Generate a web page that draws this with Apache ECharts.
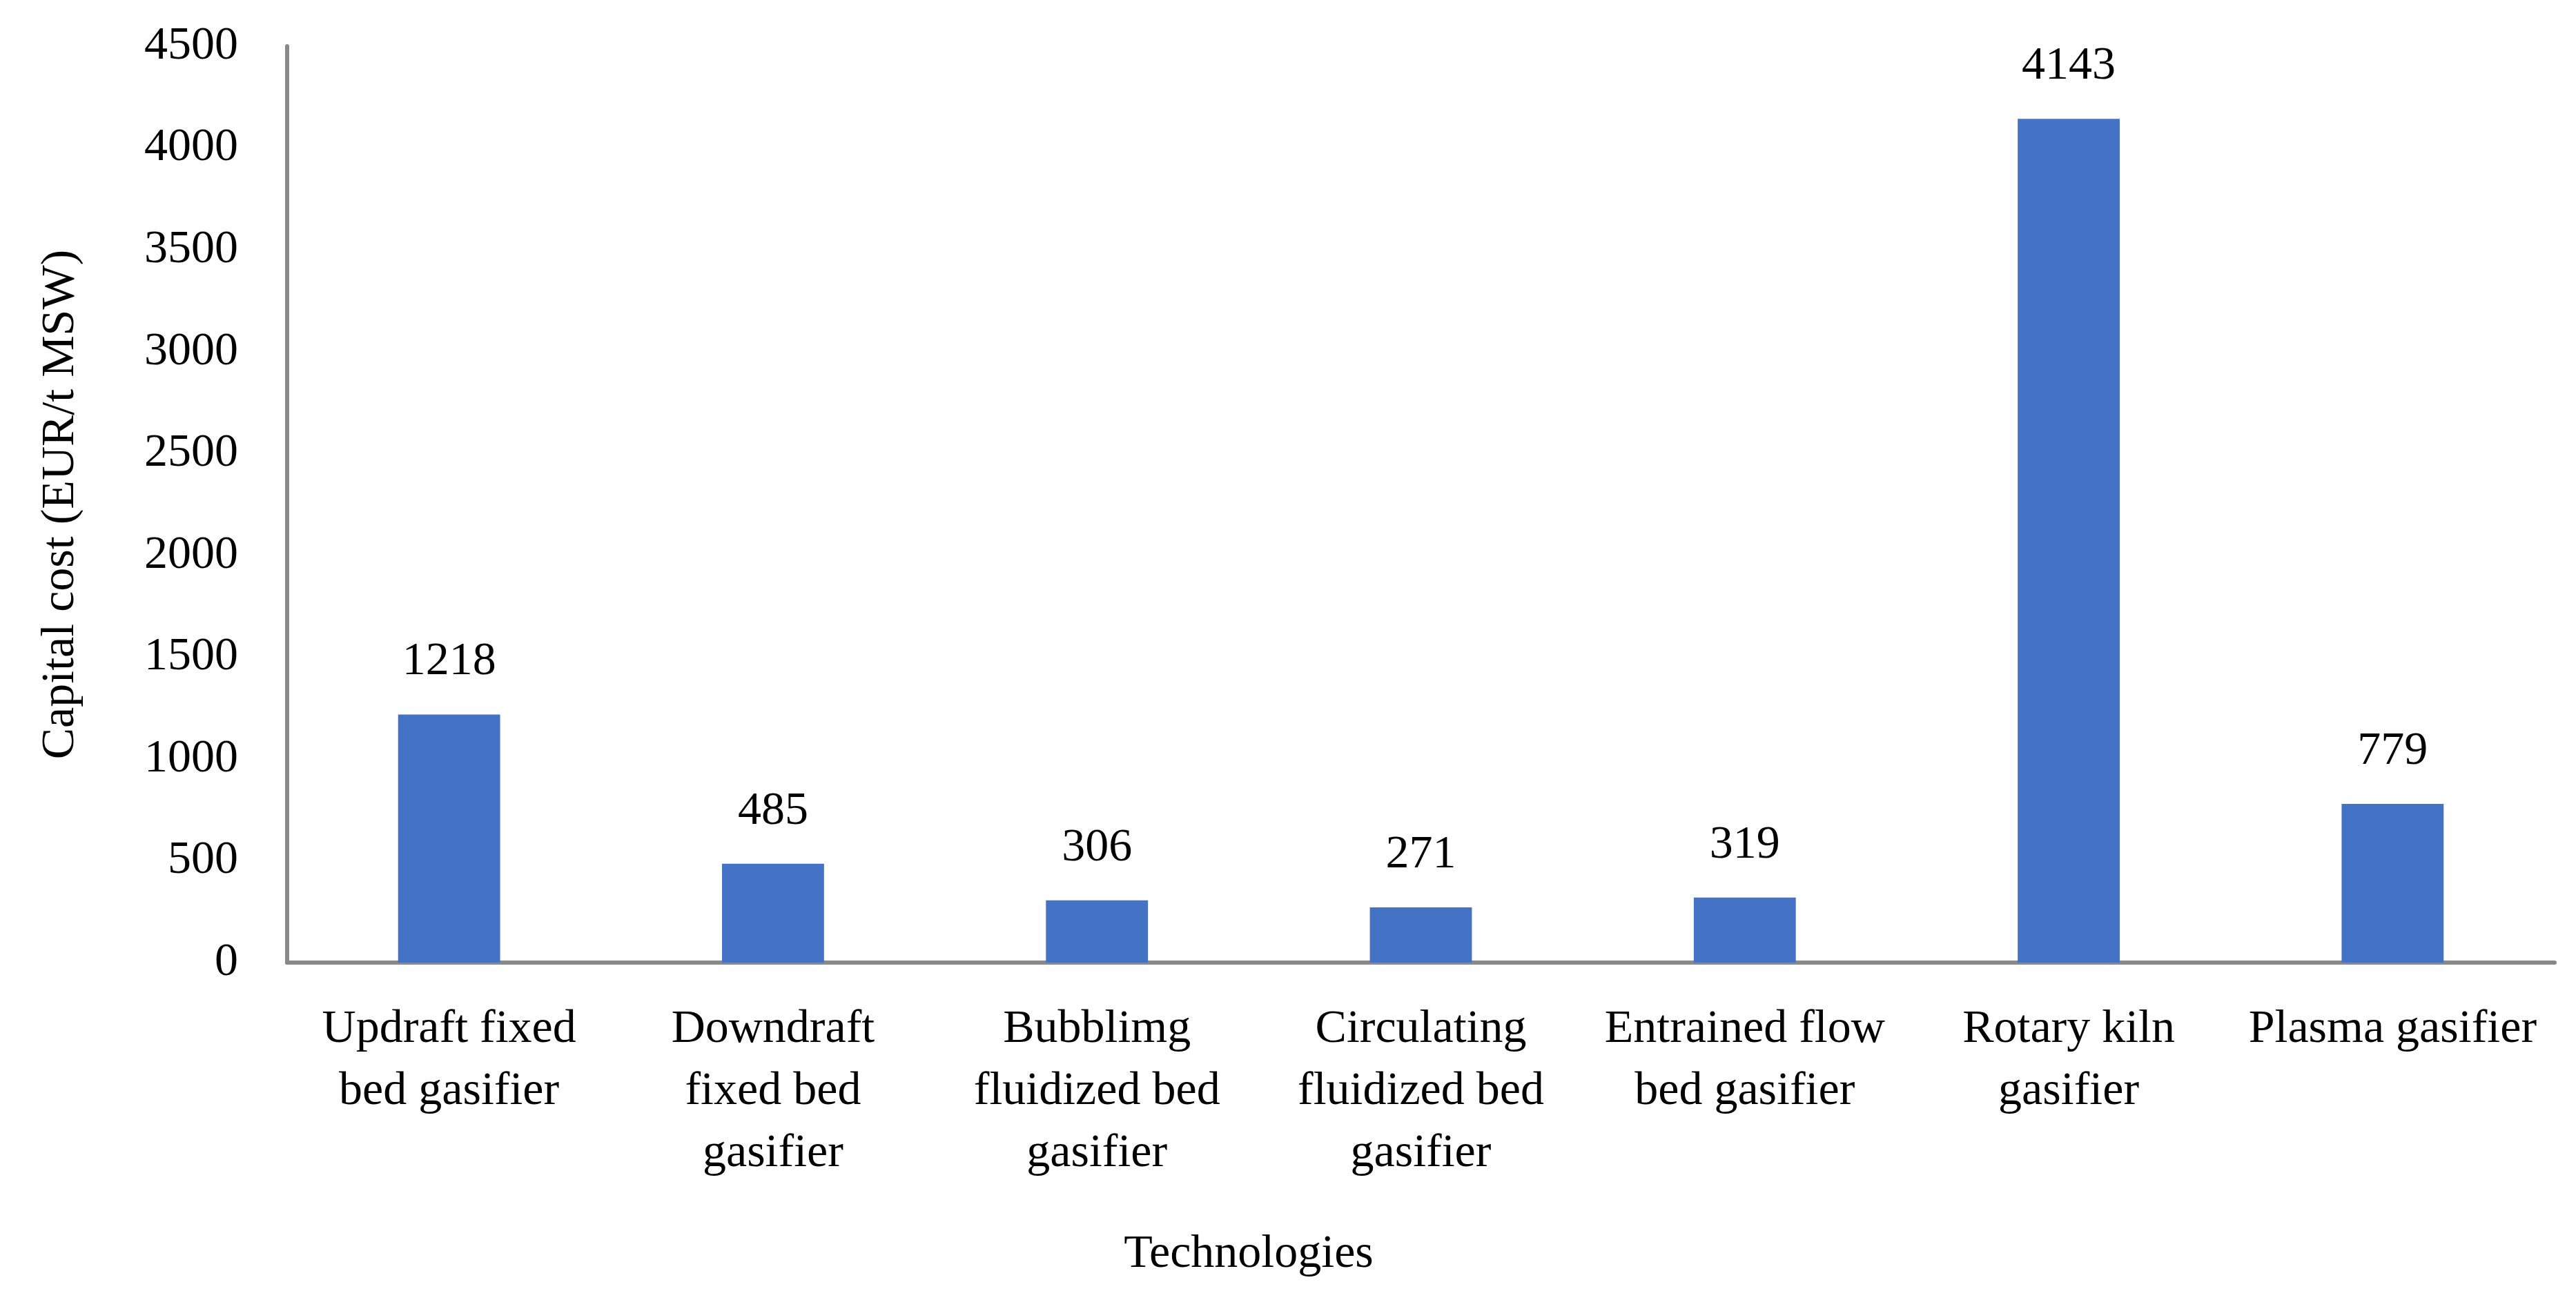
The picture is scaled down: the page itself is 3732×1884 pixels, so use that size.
<!DOCTYPE html>
<html>
<head>
<meta charset="utf-8">
<script src="https://cdn.jsdelivr.net/npm/echarts@6/dist/echarts.min.js"></script>
<style>
html,body{margin:0;padding:0;background:#fff;}
#chart{width:3732px;height:1884px;}
</style>
</head>
<body>
<div id="chart"></div>
<script>
const categories = [
  "Updraft fixed\nbed gasifier",
  "Downdraft\nfixed bed\ngasifier",
  "Bubblimg\nfluidized bed\ngasifier",
  "Circulating\nfluidized bed\ngasifier",
  "Entrained flow\nbed gasifier",
  "Rotary kiln\ngasifier",
  "Plasma gasifier"
];
const capitalCost = [1218, 485, 306, 271, 319, 4143, 779];
const yAxisTitle = "Capital cost (EUR/t MSW)";
const xAxisTitle = "Technologies";

const FONT = "'Liberation Serif', 'DejaVu Serif', serif";
const FS = 68;
const chart = echarts.init(document.getElementById('chart'));
chart.setOption({
  animation: false,
  backgroundColor: '#ffffff',
  textStyle: { fontFamily: FONT, color: '#000' },
  grid: { left: 416, right: 31, top: 67, bottom: 489, containLabel: false },
  xAxis: {
    type: 'category',
    data: categories,
    axisLine: { lineStyle: { color: '#898989', width: 6 } },
    axisTick: { show: false },
    axisLabel: {
      interval: 0, margin: 52, fontSize: FS, lineHeight: 90,
      color: '#000', fontFamily: FONT, align: 'center'
    }
  },
  yAxis: {
    type: 'value',
    min: 0, max: 4500, interval: 500,
    name: yAxisTitle,
    nameLocation: 'middle',
    nameGap: 294,
    nameTextStyle: { fontSize: FS, color: '#000', fontFamily: FONT },
    axisLine: { show: true, lineStyle: { color: '#898989', width: 6 } },
    axisTick: { show: false },
    splitLine: { show: false },
    axisLabel: {
      fontSize: FS, margin: 71, color: '#000', fontFamily: FONT,
      formatter: function (v) { return String(v); }
    }
  },
  graphic: [{
    type: 'text',
    x: 1809, y: 1818,
    style: {
      text: xAxisTitle, fontSize: FS, fontFamily: FONT, fill: '#000',
      textAlign: 'center', textVerticalAlign: 'middle'
    }
  }],
  series: [{
    type: 'bar',
    data: capitalCost,
    barWidth: '31.5%',
    itemStyle: { color: '#4472C4' },
    label: {
      show: true, position: 'top', distance: 42,
      fontSize: FS, lineHeight: 68, color: '#000', fontFamily: FONT
    }
  }]
});
</script>
</body>
</html>
